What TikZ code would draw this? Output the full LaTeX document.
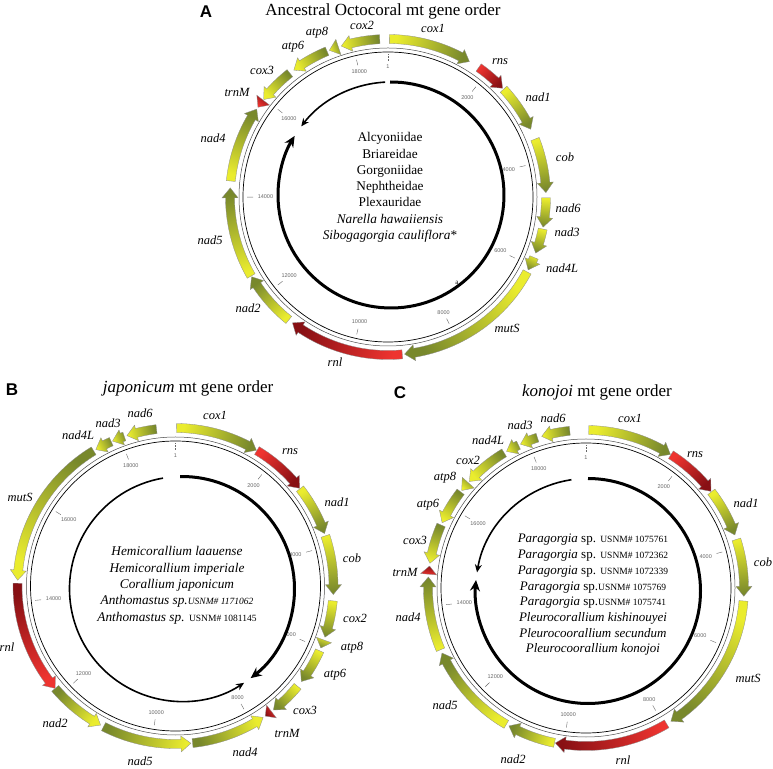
\documentclass[tikz,border=0pt]{standalone}
\usepackage{fontspec}
\setmainfont{Liberation Serif}
\setsansfont{Liberation Sans}
\usetikzlibrary{arrows.meta}

\definecolor{genelight}{RGB}{234,236,46}
\definecolor{genedark}{RGB}{120,136,44}
\definecolor{rnalight}{RGB}{238,52,48}
\definecolor{rnadark}{RGB}{136,16,20}

\tikzset{
  genebody/.style={draw=black!45, line width=0.3pt},
  genelbl/.style={font=\fontsize{12.5}{14}\selectfont\itshape, inner sep=0pt},
  ticklbl/.style={font=\sffamily\fontsize{5.5}{6}\selectfont, text=black!60, inner sep=0.6pt},
  tickline/.style={black!60, line width=0.4pt},
  ringout/.style={black!70, line width=0.5pt},
  ringin/.style={black, line width=0.7pt},
  bigarc/.style={line width=3pt, -{Stealth[length=11pt,width=10pt]}},
  smallarc/.style={line width=1.6pt, -{Stealth[length=8pt,width=7pt]}},
  paneltitle/.style={font=\fontsize{17}{20}\selectfont},
  panelletter/.style={font=\sffamily\bfseries\fontsize{17}{20}\selectfont},
  taxa/.style={align=center, font=\fontsize{13.3}{16.3}\selectfont}
}

% one gene: tail angle, tip angle, light colour, dark colour
\newcommand{\genearrow}[4]{%
  \pgfmathsetmacro{\gs}{sign(#2-#1)}
  \pgfmathsetmacro{\gb}{ifthenelse(abs(#2-#1)>3.8, #2-\gs*3.6, #1)}
  \pgfmathsetmacro{\gm}{(#1+#2)/2-180}
  \path[genebody, top color=#4, bottom color=#3, shading angle=\gm]
    (#1:153.5) arc[start angle=#1, end angle=\gb, radius=153.5]
    -- (\gb:150) -- (#2:158) -- (\gb:166) -- (\gb:162.5)
    arc[start angle=\gb, end angle=#1, radius=162.5] -- cycle;
}

% scale ticks: panel, genome length in kb
\newcommand{\tickset}[2]{%
  \draw[tickline, dash pattern=on 2pt off 1pt] (90:136) -- (90:143);
  \node[ticklbl, anchor=90] (#1-t1) at (90:133) {1};
  \foreach \k in {2,4,...,18} {
    \pgfmathsetmacro{\ta}{mod(450-\k*(360/#2),360)}
    \draw[tickline] (\ta:135) -- (\ta:141);
    \node[ticklbl, anchor=\ta] (#1-t\k) at (\ta:131) {\k000};
  }
}

\begin{document}
\begin{tikzpicture}[x=1pt,y=1pt]
\useasboundingbox (0,0) rectangle (773,768);

% A
\node[panelletter] (A-letter) at (206,756) {A};
\node[paneltitle] (A-title) at (383,757) {Ancestral Octocoral mt gene order};
\begin{scope}[shift={(388,571)}]
  \draw[ringout] (0,0) circle[radius=149];
  \draw[ringin] (0,0) circle[radius=145];
  \tickset{A}{18.67}
  \genearrow{89.5}{59}{genelight}{genedark}
  \genearrow{55}{43.5}{rnalight}{rnadark}
  \genearrow{43}{25.4}{genelight}{genedark}
  \genearrow{21.5}{1.6}{genelight}{genedark}
  \genearrow{-0.3}{-11}{genelight}{genedark}
  \genearrow{-11.7}{-20.8}{genelight}{genedark}
  \genearrow{-22.5}{-27.5}{genelight}{genedark}
  \genearrow{-28.3}{-84}{genelight}{genedark}
  \genearrow{-84.8}{-127.2}{rnalight}{rnadark}
  \genearrow{-128.9}{-149.7}{genelight}{genedark}
  \genearrow{-150}{-183.3}{genelight}{genedark}
  \genearrow{-185.8}{-213.8}{genelight}{genedark}
  \genearrow{-217.8}{-214.6}{rnalight}{rnadark}
  \genearrow{-231.6}{-218.1}{genelight}{genedark}
  \genearrow{-247.3}{-233.4}{genelight}{genedark}
  \genearrow{-251.7}{-248.2}{genelight}{genedark}
  \genearrow{-267}{-252.8}{genelight}{genedark}
\end{scope}
\begin{scope}[shift={(391,573)}]
  \draw[bigarc] (90.5:113) arc[start angle=90.5, end angle=-211.5, radius=113];
  \draw[smallarc] (93:113) arc[start angle=93, end angle=142.6, radius=113];
\end{scope}
\node[genelbl] (A-cox1) at (433,740) {cox1};
\node[genelbl] (A-rns) at (500,706) {rns};
\node[genelbl] (A-nad1) at (538,671) {nad1};
\node[genelbl] (A-cob) at (565,611) {cob};
\node[genelbl] (A-nad6) at (568,560) {nad6};
\node[genelbl] (A-nad3) at (567,536) {nad3};
\node[genelbl] (A-nad4L) at (562,500) {nad4L};
\node[genelbl] (A-mutS) at (507,440) {mutS};
\node[genelbl] (A-rnl) at (335,406) {rnl};
\node[genelbl] (A-nad2) at (248,460) {nad2};
\node[genelbl] (A-nad5) at (210,528) {nad5};
\node[genelbl] (A-nad4) at (213,630) {nad4};
\node[genelbl] (A-trnM) at (237,676) {trnM};
\node[genelbl] (A-cox3) at (262,698) {cox3};
\node[genelbl] (A-atp6) at (293,721) {atp6};
\node[genelbl] (A-atp8) at (317,735) {atp8};
\node[genelbl] (A-cox2) at (362,743) {cox2};
\node[taxa] (A-taxa) at (390,580.5) {Alcyoniidae\\Briareidae\\Gorgoniidae\\Nephtheidae\\Plexauridae\\
  \textit{Narella hawaiiensis}\\\textit{Sibogagorgia cauliflora}*};
\node[font=\fontsize{7}{8}\selectfont, inner sep=0pt] (A-a) at (457,485) {a};

% B
\node[panelletter] (B-letter) at (12,378) {B};
\node[paneltitle] (B-title) at (188,380) {\textit{japonicum} mt gene order};
\begin{scope}[shift={(175.5,182)}]
  \draw[ringout] (0,0) circle[radius=149];
  \draw[ringin] (0,0) circle[radius=145];
  \tickset{B}{19.08}
  \genearrow{89.6}{59.2}{genelight}{genedark}
  \genearrow{59}{38.2}{rnalight}{rnadark}
  \genearrow{38}{19.4}{genelight}{genedark}
  \genearrow{18.5}{-3.1}{genelight}{genedark}
  \genearrow{-5.4}{-18.9}{genelight}{genedark}
  \genearrow{-20}{-23.1}{genelight}{genedark}
  \genearrow{-24.2}{-37.2}{genelight}{genedark}
  \genearrow{-39.4}{-51.7}{genelight}{genedark}
  \genearrow{-52.6}{-55.4}{rnalight}{rnadark}
  \genearrow{-83.8}{-56.3}{genelight}{genedark}
  \genearrow{-117.1}{-84.4}{genelight}{genedark}
  \genearrow{-139.6}{-118.3}{genelight}{genedark}
  \genearrow{-181}{-139.6}{rnalight}{rnadark}
  \genearrow{-238.8}{-182.1}{genelight}{genedark}
  \genearrow{-246}{-239.7}{genelight}{genedark}
  \genearrow{-251.1}{-246.5}{genelight}{genedark}
  \genearrow{-263.1}{-252.1}{genelight}{genedark}
\end{scope}
\begin{scope}[shift={(182,179)}]
  \draw[bigarc] (91:112.5) arc[start angle=91, end angle=-52.4, radius=112.5];
  \draw[smallarc] (99.7:112.5) arc[start angle=99.7, end angle=303.5, radius=112.5];
\end{scope}
\node[genelbl] (B-cox1) at (215,353) {cox1};
\node[genelbl] (B-rns) at (290,316) {rns};
\node[genelbl] (B-nad1) at (337,266) {nad1};
\node[genelbl] (B-cob) at (352,210) {cob};
\node[genelbl] (B-cox2) at (355,150) {cox2};
\node[genelbl] (B-atp8) at (352,120) {atp8};
\node[genelbl] (B-atp6) at (335,93) {atp6};
\node[genelbl] (B-cox3) at (305,58) {cox3};
\node[genelbl] (B-trnM) at (287,35) {trnM};
\node[genelbl] (B-nad4) at (245,16) {nad4};
\node[genelbl] (B-nad5) at (140,7) {nad5};
\node[genelbl] (B-nad2) at (55,45) {nad2};
\node[genelbl] (B-rnl) at (7,121) {rnl};
\node[genelbl] (B-mutS) at (20,271) {mutS};
\node[genelbl] (B-nad4L) at (78,333) {nad4L};
\node[genelbl] (B-nad3) at (108,345) {nad3};
\node[genelbl] (B-nad6) at (140,355) {nad6};
\node[taxa] (B-taxa) at (177,182.7) {\textit{Hemicorallium laauense}\\\textit{Hemicorallium imperiale}\\
  \textit{Corallium japonicum}\\\textit{Anthomastus sp.}{\fontsize{9.5}{10}\selectfont\textit{USNM\# 1171062}}\\
  \textit{Anthomastus sp.} {\fontsize{9.5}{10}\selectfont USNM\# 1081145}};

% C
\node[panelletter] (C-letter) at (400,375) {C};
\node[paneltitle] (C-title) at (597,376) {\textit{konojoi} mt gene order};
\begin{scope}[shift={(586,180)}]
  \draw[ringout] (0,0) circle[radius=149];
  \draw[ringin] (0,0) circle[radius=145];
  \tickset{C}{19.15}
  \genearrow{89}{57.7}{genelight}{genedark}
  \genearrow{57.5}{37.7}{rnalight}{rnadark}
  \genearrow{37.5}{19.6}{genelight}{genedark}
  \genearrow{17.9}{-3}{genelight}{genedark}
  \genearrow{-4.7}{-57.5}{genelight}{genedark}
  \genearrow{-59.3}{-101.2}{rnalight}{rnadark}
  \genearrow{-101.5}{-119.2}{genelight}{genedark}
  \genearrow{-120.3}{-155.7}{genelight}{genedark}
  \genearrow{-157}{-184}{genelight}{genedark}
  \genearrow{-185}{-188}{rnalight}{rnadark}
  \genearrow{-203.5}{-189}{genelight}{genedark}
  \genearrow{-217.5}{-204.4}{genelight}{genedark}
  \genearrow{-221.8}{-218.1}{genelight}{genedark}
  \genearrow{-238.8}{-222.4}{genelight}{genedark}
  \genearrow{-244.7}{-239.8}{genelight}{genedark}
  \genearrow{-252.1}{-245.5}{genelight}{genedark}
  \genearrow{-264.1}{-253.7}{genelight}{genedark}
\end{scope}
\begin{scope}[shift={(588,177)}]
  \draw[bigarc] (90:112.5) arc[start angle=90, end angle=-185.6, radius=112.5];
  \draw[smallarc] (98.5:112.5) arc[start angle=98.5, end angle=170.5, radius=112.5];
\end{scope}
\node[genelbl] (C-cox1) at (630,350) {cox1};
\node[genelbl] (C-rns) at (695,313) {rns};
\node[genelbl] (C-nad1) at (746,265) {nad1};
\node[genelbl] (C-cob) at (763,206) {cob};
\node[genelbl] (C-mutS) at (748,90) {mutS};
\node[genelbl] (C-rnl) at (623,8) {rnl};
\node[genelbl] (C-nad2) at (513,9) {nad2};
\node[genelbl] (C-nad5) at (445,63) {nad5};
\node[genelbl] (C-nad4) at (408,151) {nad4};
\node[genelbl] (C-trnM) at (405,196) {trnM};
\node[genelbl] (C-cox3) at (415,228) {cox3};
\node[genelbl] (C-atp6) at (428,263) {atp6};
\node[genelbl] (C-atp8) at (445,290) {atp8};
\node[genelbl] (C-cox2) at (468,308) {cox2};
\node[genelbl] (C-nad4L) at (488,328) {nad4L};
\node[genelbl] (C-nad3) at (520,343) {nad3};
\node[genelbl] (C-nad6) at (553,350) {nad6};
\node[taxa, font=\fontsize{13}{15.7}\selectfont] (C-taxa) at (593,173) {%
  \textit{Paragorgia} sp. {\fontsize{9.5}{10}\selectfont USNM\# 1075761}\\
  \textit{Paragorgia} sp. {\fontsize{9.5}{10}\selectfont USNM\# 1072362}\\
  \textit{Paragorgia} sp. {\fontsize{9.5}{10}\selectfont USNM\# 1072339}\\
  \textit{Paragorgia} sp.{\fontsize{9.5}{10}\selectfont USNM\# 1075769}\\
  \textit{Paragorgia} sp.{\fontsize{9.5}{10}\selectfont USNM\# 1075741}\\
  \textit{Pleurocorallium kishinouyei}\\\textit{Pleurocoorallium secundum}\\
  \textit{Pleurocoorallium konojoi}};
\end{tikzpicture}
\end{document}
